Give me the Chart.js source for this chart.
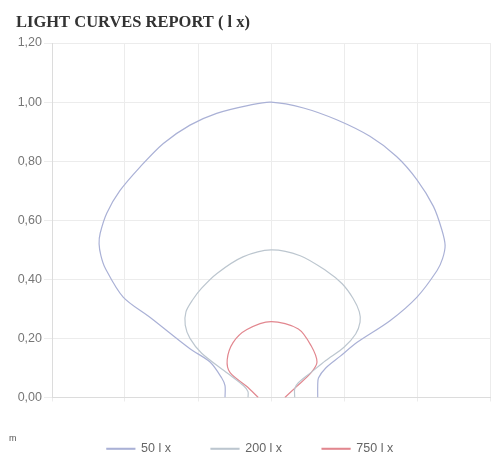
<!DOCTYPE html>
<html>
<head>
<meta charset="utf-8">
<script src="https://cdn.jsdelivr.net/npm/chart.js@4.4.0/dist/chart.umd.min.js"></script>
<style>
html,body{margin:0;padding:0;background:#fff;}
#wrap{position:relative;width:503px;height:459px;}
</style>
</head>
<body>
<div id="wrap"><canvas id="c" width="503" height="459"></canvas></div>
<script>
const titleText = "LIGHT CURVES REPORT ( l x)";
const axisUnit = "m";
const seriesNames = ["50 l x", "200 l x", "750 l x"];
const xTicks = [-0.6, -0.4, -0.2, 0, 0.2, 0.4, 0.6];
const yTicks = [0, 0.2, 0.4, 0.6, 0.8, 1.0, 1.2];

const lx50X = [-0.126, -0.126, -0.135, -0.167, -0.222, -0.33, -0.405, -0.455, -0.466, -0.471, -0.468, -0.45, -0.414, -0.359, -0.295, -0.222, -0.149, -0.058, 0, 0.089, 0.18, 0.271, 0.344, 0.40, 0.445, 0.468, 0.477, 0.47, 0.455, 0.40, 0.326, 0.235, 0.19, 0.15, 0.13, 0.128, 0.128];
const lx50Y = [0, 0.04, 0.066, 0.12, 0.165, 0.27, 0.34, 0.44, 0.48, 0.52, 0.556, 0.624, 0.70, 0.78, 0.86, 0.922, 0.962, 0.99, 1.0, 0.98, 0.94, 0.884, 0.816, 0.737, 0.647, 0.568, 0.515, 0.47, 0.43, 0.34, 0.26, 0.186, 0.14, 0.1, 0.066, 0.04, 0];

const lx200X = [-0.063, -0.063, -0.075, -0.12, -0.19, -0.222, -0.235, -0.233, -0.215, -0.19, -0.148, -0.077, 0, 0.08, 0.15, 0.195, 0.225, 0.242, 0.244, 0.232, 0.2, 0.15, 0.11, 0.075, 0.065, 0.065];
const lx200Y = [0, 0.02, 0.04, 0.083, 0.15, 0.2, 0.245, 0.29, 0.33, 0.37, 0.42, 0.476, 0.50, 0.48, 0.43, 0.385, 0.335, 0.29, 0.255, 0.215, 0.17, 0.125, 0.085, 0.05, 0.03, 0];

const lx750X = [-0.035, -0.066, -0.112, -0.12, -0.104, -0.066, 0, 0.075, 0.11, 0.126, 0.11, 0.07, 0.038];
const lx750Y = [0, 0.037, 0.084, 0.128, 0.186, 0.23, 0.257, 0.232, 0.175, 0.12, 0.084, 0.037, 0];

const colors = ["#aab1d6", "#bcc6cf", "#e2878f"];

function pts(xs, ys){ return xs.map((x,i)=>({x:x, y:ys[i]})); }
function fmt(v){ return (Math.round(v*100)/100).toFixed(2).replace('.', ','); }

const textPlugin = {
  id: 'extraText',
  afterDraw(chart){
    const ctx = chart.ctx;
    ctx.save();
    ctx.font = "bold 16.5px 'Liberation Serif', 'Times New Roman', serif";
    ctx.fillStyle = "#333";
    ctx.textBaseline = "alphabetic";
    ctx.textAlign = "left";
    ctx.fillText(titleText, 16, 27);
    ctx.font = "9px 'Liberation Sans', Arial, sans-serif";
    ctx.fillStyle = "#555";
    ctx.textBaseline = "middle";
    ctx.fillText(axisUnit, 9, 439);
    ctx.restore();
  }
};

const data = {
  datasets: [
    {label: seriesNames[0], data: pts(lx50X, lx50Y)},
    {label: seriesNames[1], data: pts(lx200X, lx200Y)},
    {label: seriesNames[2], data: pts(lx750X, lx750Y)}
  ].map((d,i)=>Object.assign(d, {
    borderColor: colors[i], backgroundColor: colors[i], borderWidth: 1.2,
    showLine: true, pointRadius: 0, tension: 0.3, fill: false
  }))
};

new Chart(document.getElementById('c'), {
  type: 'scatter',
  data: data,
  plugins: [textPlugin],
  options: {
    responsive: false,
    animation: false,
    layout: {padding: {left: 10, right: 13, top: 43, bottom: -6}},
    plugins: {
      title: {display: false},
      legend: {
        position: 'bottom',
        labels: {
          boxWidth: 28, boxHeight: 1, color: '#666', padding: 40,
          font: {family: "'Liberation Sans', Arial, sans-serif", size: 12.5}
        }
      },
      tooltip: {enabled: false}
    },
    scales: {
      x: {
        type: 'linear', min: -0.6, max: 0.6,
        afterBuildTicks(s){ s.ticks = xTicks.map(v=>({value:v})); },
        afterFit(s){ s.height = 5; s.paddingLeft = 0; s.paddingRight = 0; },
        grid: {color: '#ececec', tickLength: 4},
        border: {color: '#dcdcdc'},
        ticks: {color: '#777', padding: 5, maxRotation: 0,
          font: {family: "'Liberation Sans', Arial, sans-serif", size: 12.5},
          callback: v => fmt(v)}
      },
      y: {
        type: 'linear', min: 0, max: 1.2,
        afterBuildTicks(s){ s.ticks = yTicks.map(v=>({value:v})); },
        afterFit(s){ s.width = 42; s.paddingTop = 0; s.paddingBottom = 0; },
        grid: {color: '#ececec', tickLength: 8},
        border: {color: '#dcdcdc'},
        ticks: {color: '#777', padding: 2,
          font: {family: "'Liberation Sans', Arial, sans-serif", size: 12.5},
          callback: v => fmt(v)}
      }
    }
  }
});
</script>
</body>
</html>
